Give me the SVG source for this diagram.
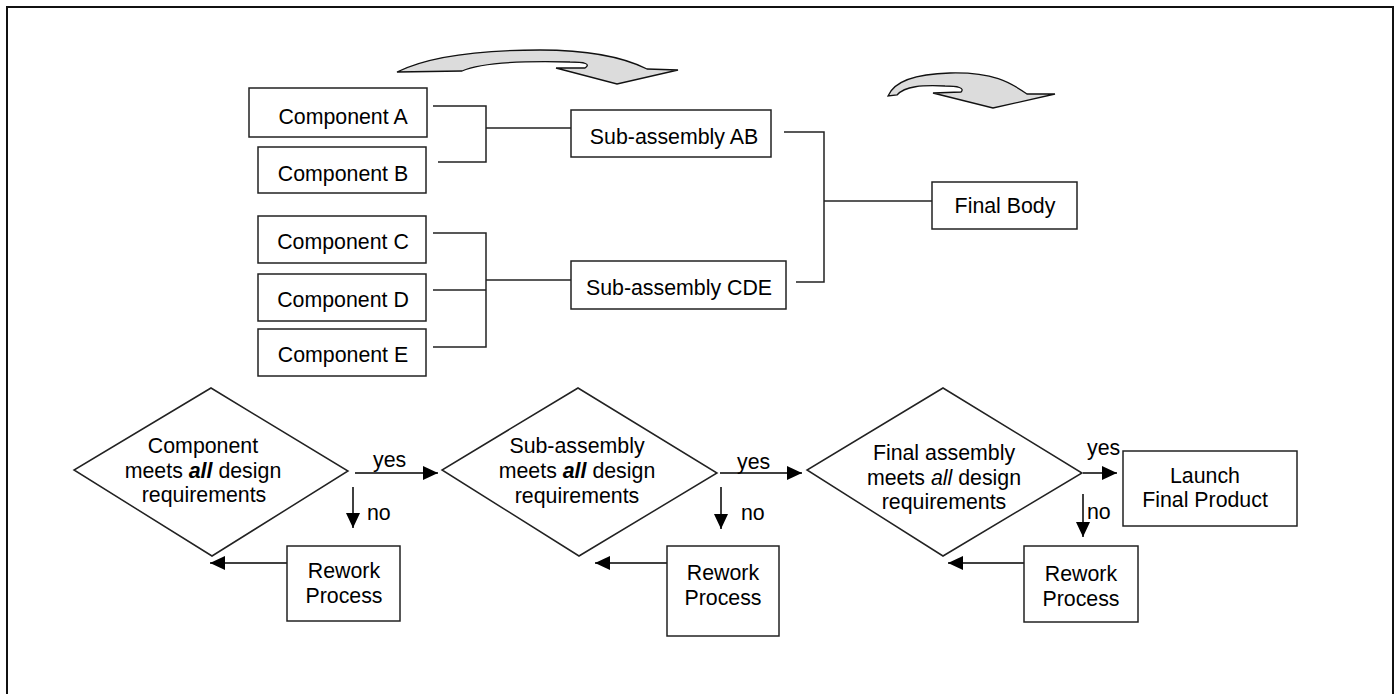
<svg xmlns="http://www.w3.org/2000/svg" width="1399" height="694" viewBox="0 0 1399 694">
  <style>
    text { font-family: "Liberation Sans", Arial, sans-serif; font-size: 21.33px; fill: #000; }
    .mid { text-anchor: middle; }
    .box { fill: #fff; stroke: #222; stroke-width: 1.5; }
    .link { fill: none; stroke: #222; stroke-width: 1.5; }
    .flow { fill: none; stroke: #000; stroke-width: 1.5; marker-end: url(#head); }
    .bend { fill: #dcdcdc; stroke: #111; stroke-width: 1.3; stroke-linejoin: miter; }
    .em { font-weight: bold; font-style: italic; }
    .it { font-style: italic; }
  </style>
  <defs>
    <marker id="head" viewBox="0 0 15 14" refX="15" refY="7" markerWidth="15" markerHeight="14" markerUnits="userSpaceOnUse" orient="auto">
      <path d="M0,0 L15,7 L0,14 Z" fill="#000"/>
    </marker>
  </defs>

  <!-- page frame -->
  <rect x="7" y="7" width="1386" height="720" fill="#fff" stroke="#111" stroke-width="2"/>

  <!-- curved stage arrows -->
  <g id="stage-arrow-1">
    <path class="bend" d="M397,72 C425,58 470,50 540,50 C592,50 625,58 647,69 L678,70 L617,84 L556,68 L585,68 C591,64 585,62 570,62 C530,61 482,62 462,71 Z"/>
  </g>
  <g id="stage-arrow-2">
    <path class="bend" d="M888,96 C893,84 910,74 950,73 C993,72 1010,82 1027,94 L1055,94 L993,108 L933,93 L961,92 C965,88 958,86 945,86 C922,85 905,86 897,95 Z"/>
  </g>

  <!-- connectors -->
  <g id="connectors">
    <!-- components A,B into sub-assembly AB -->
    <polyline class="link" points="433,106 486,106 486,162 438,162"/>
    <line class="link" x1="486" y1="128" x2="571" y2="128"/>
    <!-- components C,D,E into sub-assembly CDE -->
    <polyline class="link" points="433,233 486,233 486,347 433,347"/>
    <line class="link" x1="433" y1="290" x2="486" y2="290"/>
    <line class="link" x1="486" y1="280" x2="571" y2="280"/>
    <!-- sub-assemblies into final body -->
    <polyline class="link" points="784,132 824,132 824,282 796,282"/>
    <line class="link" x1="824" y1="201" x2="932" y2="201"/>

    <!-- decision flow -->
    <line class="flow" x1="355" y1="473" x2="438" y2="473"/>
    <line class="flow" x1="353" y1="487" x2="353" y2="528"/>
    <line class="flow" x1="287" y1="563" x2="210" y2="563"/>

    <line class="flow" x1="720" y1="473" x2="802" y2="473"/>
    <line class="flow" x1="721" y1="487" x2="721" y2="529"/>
    <line class="flow" x1="667" y1="563" x2="595" y2="563"/>

    <line class="flow" x1="1083" y1="473" x2="1117" y2="473"/>
    <line class="flow" x1="1083" y1="494" x2="1083" y2="537"/>
    <line class="flow" x1="1024" y1="563" x2="948" y2="563"/>

    <text x="373" y="467">yes</text>
    <text x="367" y="520">no</text>
    <text x="737" y="469">yes</text>
    <text x="741" y="520">no</text>
    <text x="1087" y="455">yes</text>
    <text x="1087" y="519">no</text>
  </g>

  <!-- component boxes -->
  <g id="component-a">
    <rect class="box" x="249" y="88" width="178" height="49"/>
    <text class="mid" x="343" y="124">Component A</text>
  </g>
  <g id="component-b">
    <rect class="box" x="258" y="147" width="168" height="46"/>
    <text class="mid" x="343" y="181">Component B</text>
  </g>
  <g id="component-c">
    <rect class="box" x="258" y="216" width="168" height="47"/>
    <text class="mid" x="343" y="249">Component C</text>
  </g>
  <g id="component-d">
    <rect class="box" x="258" y="274" width="168" height="47"/>
    <text class="mid" x="343" y="307">Component D</text>
  </g>
  <g id="component-e">
    <rect class="box" x="258" y="329" width="168" height="47"/>
    <text class="mid" x="343" y="362">Component E</text>
  </g>

  <!-- sub-assemblies and final body -->
  <g id="sub-assembly-ab">
    <rect class="box" x="571" y="110" width="200" height="47"/>
    <text class="mid" x="674" y="144">Sub-assembly AB</text>
  </g>
  <g id="sub-assembly-cde">
    <rect class="box" x="571" y="261" width="215" height="48"/>
    <text class="mid" x="679" y="295">Sub-assembly CDE</text>
  </g>
  <g id="final-body">
    <rect class="box" x="932" y="182" width="145" height="47"/>
    <text class="mid" x="1005" y="213">Final Body</text>
  </g>

  <!-- decisions -->
  <g id="check-component">
    <polygon class="box" points="211,388 348,471 212,556 74,470"/>
    <text class="mid" x="203" y="453">Component</text>
    <text class="mid" x="203" y="478">meets <tspan class="em">all</tspan> design</text>
    <text class="mid" x="204" y="502">requirements</text>
  </g>
  <g id="check-sub-assembly">
    <polygon class="box" points="578,388 717,473 579,556 442,470"/>
    <text class="mid" x="577" y="453">Sub-assembly</text>
    <text class="mid" x="577" y="478">meets <tspan class="em">all</tspan> design</text>
    <text class="mid" x="577" y="503">requirements</text>
  </g>
  <g id="check-final">
    <polygon class="box" points="943,388 1082,473 943,556 807,470"/>
    <text class="mid" x="944" y="460">Final assembly</text>
    <text class="mid" x="944" y="485">meets <tspan class="it">all</tspan> design</text>
    <text class="mid" x="944" y="509">requirements</text>
  </g>

  <!-- outcomes -->
  <g id="launch">
    <rect class="box" x="1123" y="451" width="174" height="75"/>
    <text class="mid" x="1205" y="483">Launch</text>
    <text class="mid" x="1205" y="507">Final Product</text>
  </g>
  <g id="rework-1">
    <rect class="box" x="287" y="546" width="113" height="75"/>
    <text class="mid" x="344" y="578">Rework</text>
    <text class="mid" x="344" y="603">Process</text>
  </g>
  <g id="rework-2">
    <rect class="box" x="667" y="546" width="112" height="90"/>
    <text class="mid" x="723" y="580">Rework</text>
    <text class="mid" x="723" y="605">Process</text>
  </g>
  <g id="rework-3">
    <rect class="box" x="1024" y="546" width="114" height="76"/>
    <text class="mid" x="1081" y="581">Rework</text>
    <text class="mid" x="1081" y="606">Process</text>
  </g>
</svg>
